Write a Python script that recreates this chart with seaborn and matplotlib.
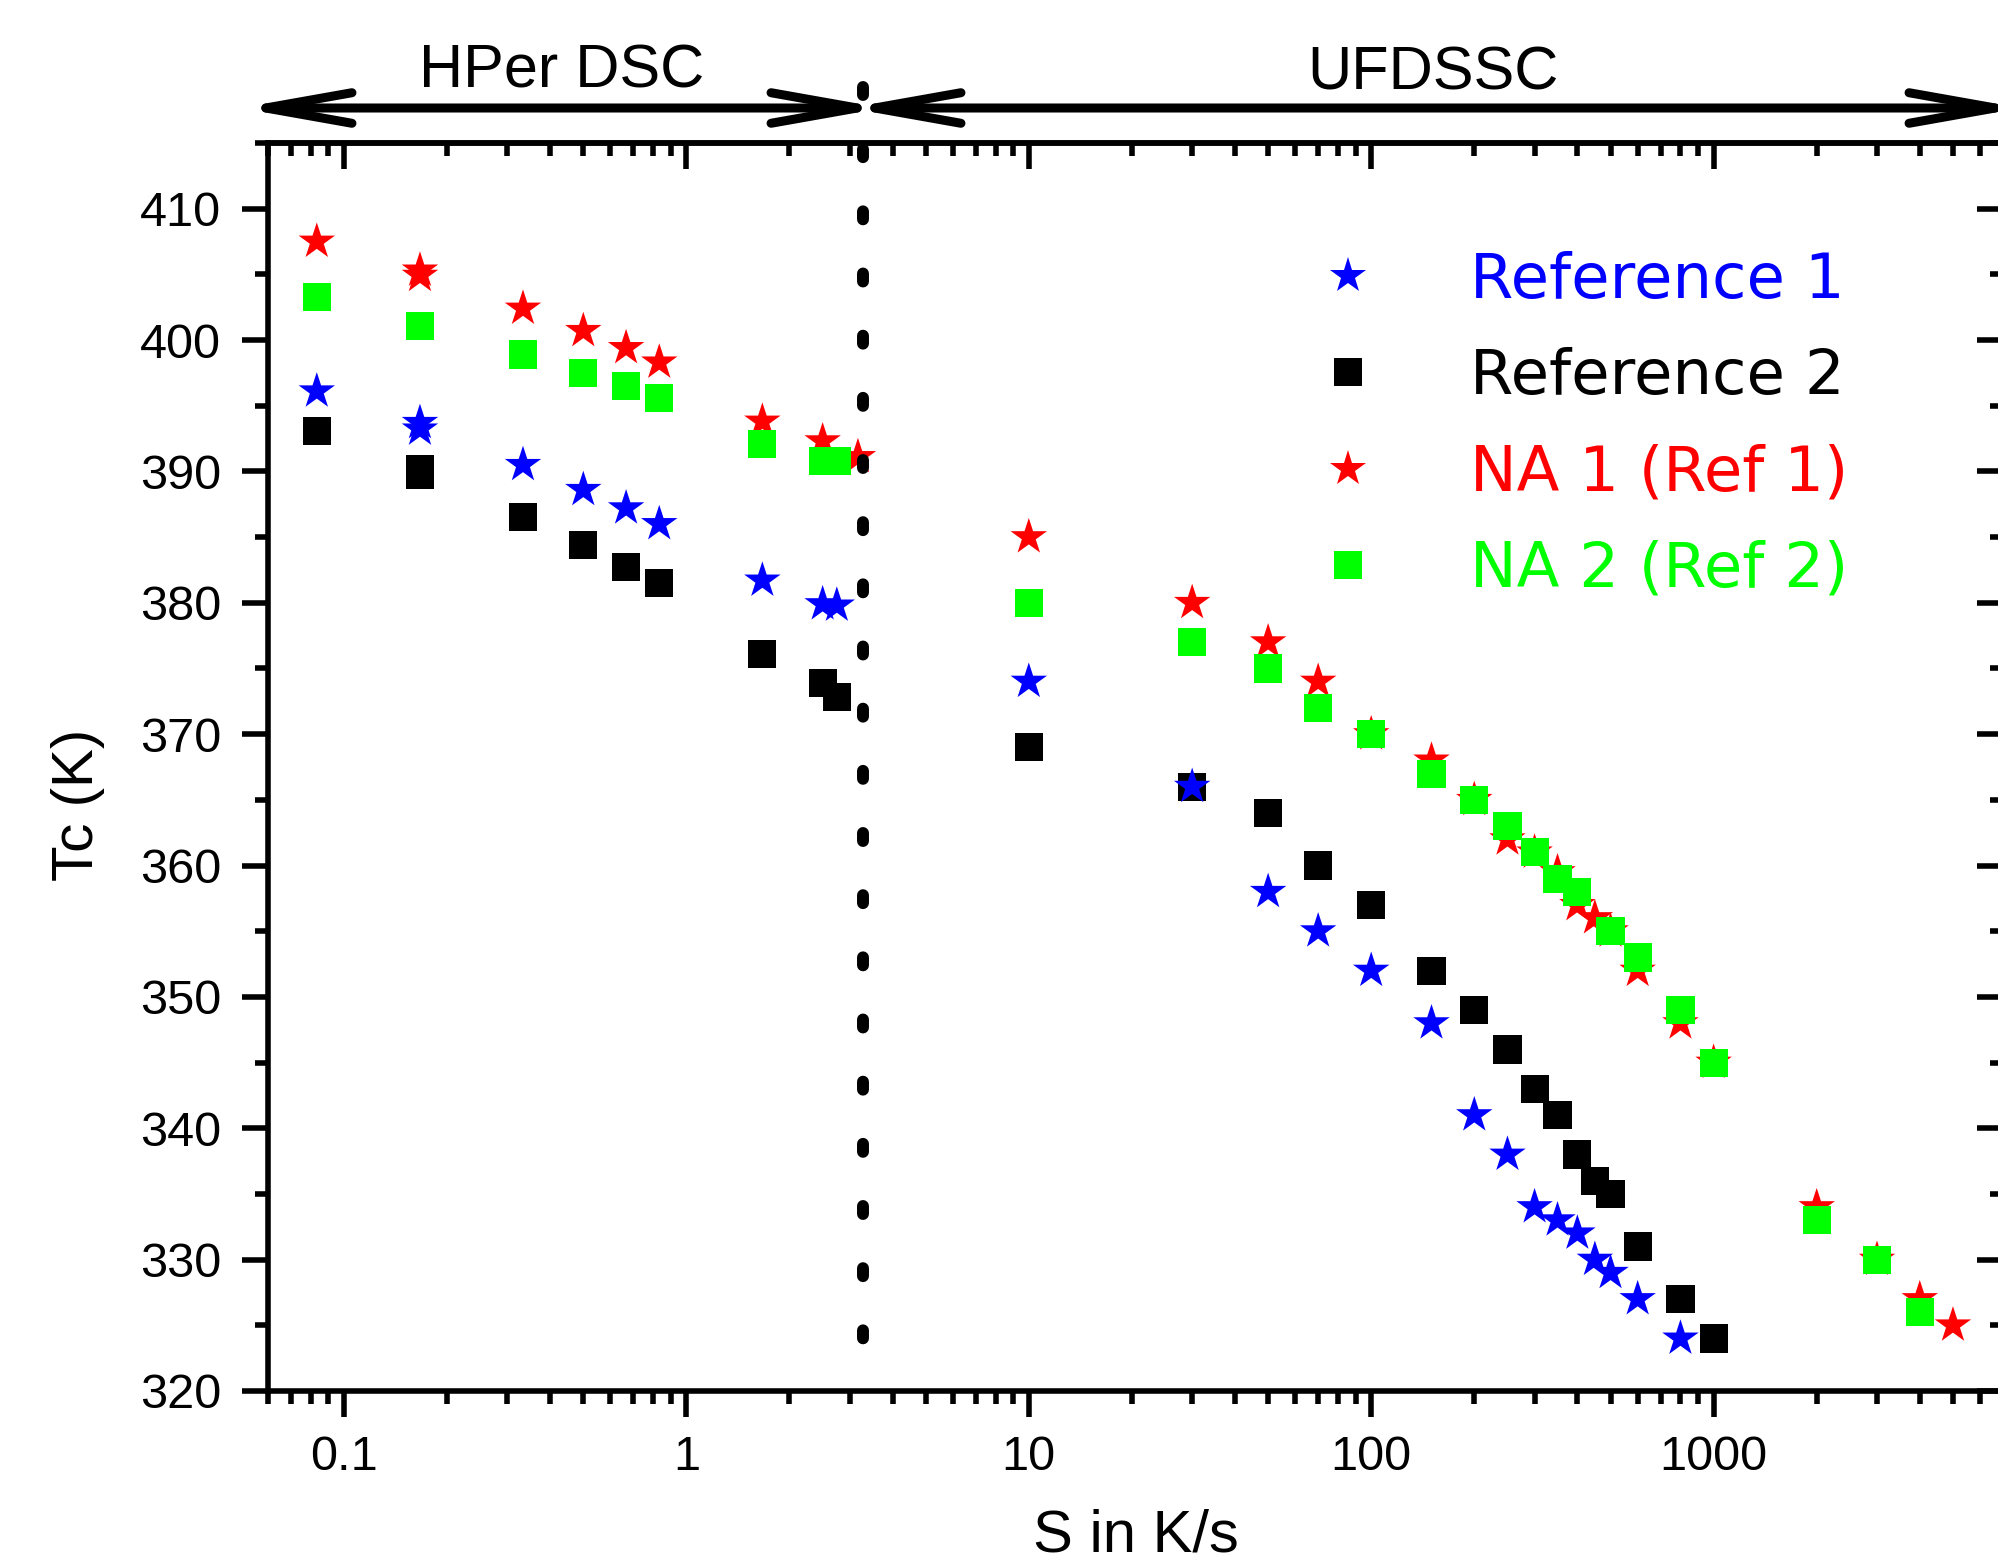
import numpy as np
import pandas as pd
import matplotlib
matplotlib.use("Agg")
import matplotlib.pyplot as plt
import matplotlib.ticker as mticker
from matplotlib.patches import FancyArrowPatch
import seaborn as sns

# ---- cooling rate S (K/s) and crystallisation temperature Tc (K) ----
ref1_rate = [0.0833, 0.1667, 0.1667, 0.3333, 0.5, 0.6667, 0.8333, 1.667, 2.5, 2.75,
             10, 30, 50, 70, 100, 150, 200, 250, 300, 350, 400, 450, 500, 600, 800]
ref1_tc = [396.1, 393.7, 393.2, 390.5, 388.6, 387.2, 386.0, 381.7, 379.9, 379.8,
           374, 366, 358, 355, 352, 348, 341, 338, 334, 333, 332, 330, 329, 327, 324]

ref2_rate = [0.0833, 0.1667, 0.1667, 0.3333, 0.5, 0.6667, 0.8333, 1.667, 2.5, 2.75,
             10, 30, 50, 70, 100, 150, 200, 250, 300, 350, 400, 450, 500, 600, 800, 1000]
ref2_tc = [393.1, 390.2, 389.7, 386.5, 384.4, 382.7, 381.5, 376.1, 373.9, 372.8,
           369, 366, 364, 360, 357, 352, 349, 346, 343, 341, 338, 336, 335, 331, 327, 324]

na1_rate = [0.0833, 0.1667, 0.1667, 0.3333, 0.5, 0.6667, 0.8333, 1.667, 2.5, 3.17,
            10, 30, 50, 70, 100, 150, 200, 250, 300, 350, 400, 450, 500, 600, 800, 1000,
            2000, 3000, 4000, 5000]
na1_tc = [407.5, 405.3, 404.9, 402.4, 400.7, 399.4, 398.3, 393.8, 392.3, 391.1,
          385, 380, 377, 374, 370, 368, 365, 362, 361, 359.5, 357, 356, 355, 352, 348, 345,
          334, 330, 327, 325]

na2_rate = [0.0833, 0.1667, 0.3333, 0.5, 0.6667, 0.8333, 1.667, 2.5, 2.75,
            10, 30, 50, 70, 100, 150, 200, 250, 300, 350, 400, 500, 600, 800, 1000,
            2000, 3000, 4000]
na2_tc = [403.3, 401.1, 398.9, 397.5, 396.5, 395.6, 392.1, 390.8, 390.8,
          380, 377, 375, 372, 370, 367, 365, 363, 361, 359, 358, 355, 353, 349, 345,
          333, 330, 326]

series_names = ["Reference 1", "Reference 2", "NA 1 (Ref 1)", "NA 2 (Ref 2)"]
series_colors = ["#0000FF", "#000000", "#FF0000", "#00FF00"]
series_markers = ["*", "s", "*", "s"]
series_sizes = [760, 410, 760, 410]

x_ticks = [0.1, 1, 10, 100, 1000]
x_tick_labels = ["0.1", "1", "10", "100", "1000"]
y_ticks = [320, 330, 340, 350, 360, 370, 380, 390, 400, 410]

method_rate_boundary = 3.27          # S separating the two calorimeters
method_labels = ["HPer DSC", "UFDSSC"]

# drawing order: black squares underneath, green squares on top
frames = [
    pd.DataFrame({"S": ref2_rate, "Tc": ref2_tc, "series": "Reference 2"}),
    pd.DataFrame({"S": ref1_rate, "Tc": ref1_tc, "series": "Reference 1"}),
    pd.DataFrame({"S": na1_rate, "Tc": na1_tc, "series": "NA 1 (Ref 1)"}),
    pd.DataFrame({"S": na2_rate, "Tc": na2_tc, "series": "NA 2 (Ref 2)"}),
]
df = pd.concat(frames, ignore_index=True)

sns.set_style("ticks")
plt.rcParams["font.family"] = ["Liberation Sans", "DejaVu Sans"]
plt.rcParams.update({
    "axes.linewidth": 4.0,
    "axes.edgecolor": "black",
    "axes.labelcolor": "black",
    "xtick.color": "black",
    "ytick.color": "black",
    "text.color": "black",
})

W, H = 1999, 1567
fig = plt.figure(figsize=(W / 100, H / 100), dpi=100)
ax = fig.add_axes([268 / W, 176 / H, 1735 / W, 1248 / H])

sns.scatterplot(
    data=df, x="S", y="Tc",
    hue="series", style="series", size="series",
    hue_order=series_names, style_order=series_names, size_order=series_names,
    palette=dict(zip(series_names, series_colors)),
    markers=dict(zip(series_names, series_markers)),
    sizes=dict(zip(series_names, series_sizes)),
    linewidth=0, legend="full", ax=ax, zorder=3,
)

ax.set_xscale("log")

# ticks: bottom / left pointing out
ax.xaxis.set_major_locator(mticker.FixedLocator(x_ticks))
ax.xaxis.set_major_formatter(mticker.FixedFormatter(x_tick_labels))
ax.xaxis.set_minor_locator(mticker.LogLocator(base=10, subs=np.arange(2, 10), numticks=100))
ax.xaxis.set_minor_formatter(mticker.NullFormatter())
ax.yaxis.set_major_locator(mticker.FixedLocator(y_ticks))
ax.yaxis.set_minor_locator(mticker.MultipleLocator(5))
ax.tick_params(axis="both", which="major", direction="out", length=18.7, width=4,
               labelsize=35, colors="black")
ax.tick_params(axis="both", which="minor", direction="out", length=9.4, width=4,
               colors="black")
ax.tick_params(axis="x", which="major", pad=13)
ax.tick_params(axis="y", which="major", pad=15)
for side in ["top", "right"]:
    ax.spines[side].set_visible(True)

# mirrored ticks on top / right pointing in
top = ax.secondary_xaxis("top")
top.xaxis.set_major_locator(mticker.FixedLocator(x_ticks))
top.xaxis.set_minor_locator(mticker.LogLocator(base=10, subs=np.arange(2, 10), numticks=100))
top.xaxis.set_major_formatter(mticker.NullFormatter())
top.xaxis.set_minor_formatter(mticker.NullFormatter())
top.tick_params(axis="x", which="major", direction="in", length=18.7, width=4, colors="black")
top.tick_params(axis="x", which="minor", direction="in", length=9.4, width=4, colors="black")
top.spines["top"].set_color("black")

right = ax.secondary_yaxis("right")
right.yaxis.set_major_locator(mticker.FixedLocator(y_ticks))
right.yaxis.set_minor_locator(mticker.MultipleLocator(5))
right.yaxis.set_major_formatter(mticker.NullFormatter())
right.tick_params(axis="y", which="major", direction="in", length=18.7, width=4, colors="black")
right.tick_params(axis="y", which="minor", direction="in", length=9.4, width=4, colors="black")
right.spines["right"].set_color("black")

# axis labels
ax.set_xlabel("S in K/s", fontsize=43, va="baseline")
ax.xaxis.set_label_coords(0.5, -0.1290)
ax.set_ylabel("Tc (K)", fontsize=42, va="baseline")
ax.yaxis.set_label_coords(-0.1008, 0.4696)

# dotted boundary between the two techniques
lw_sep = 8.6
ax.plot([method_rate_boundary, method_rate_boundary], [1.0449, 0.0409],
        transform=ax.get_xaxis_transform(), color="black", lw=lw_sep,
        linestyle=(0, (5.76 / lw_sep, 39.0 / lw_sep)), dash_capstyle="round",
        clip_on=False, zorder=4)

ax.set_xlim(0.06, 7000)
ax.set_ylim(320, 415)

# legend with coloured entries
handles, labels = ax.get_legend_handles_labels()
keep = [(h, l) for h, l in zip(handles, labels) if l in series_names]
ax.legend([h for h, _ in keep], [l for _, l in keep],
          loc="upper left", bbox_to_anchor=(1317 / W, (H - 251) / H),
          bbox_transform=fig.transFigure, frameon=False,
          prop={"family": ["DejaVu Sans"], "size": 45},
          handlelength=1.0, handletextpad=1.45, labelspacing=0.58,
          borderpad=0, borderaxespad=0, scatteryoffsets=[0.5],
          labelcolor=series_colors)

# measurement ranges above the plot
arrow_y = (H - 108) / H
for (x0, x1) in [(240, 883), (849, 2021)]:
    arr = FancyArrowPatch((x0 / W, arrow_y), (x1 / W, arrow_y),
                          transform=fig.transFigure,
                          arrowstyle="<->,head_length=0.62,head_width=0.11",
                          mutation_scale=100, lw=6.5, color="black",
                          shrinkA=0, shrinkB=0, capstyle="round", joinstyle="round")
    fig.add_artist(arr)
fig.text(562 / W, (H - 87) / H, method_labels[0], fontsize=44, ha="center", va="baseline")
fig.text(1433 / W, (H - 89) / H, method_labels[1], fontsize=44, ha="center", va="baseline")

fig.savefig("out.png", dpi=100)
